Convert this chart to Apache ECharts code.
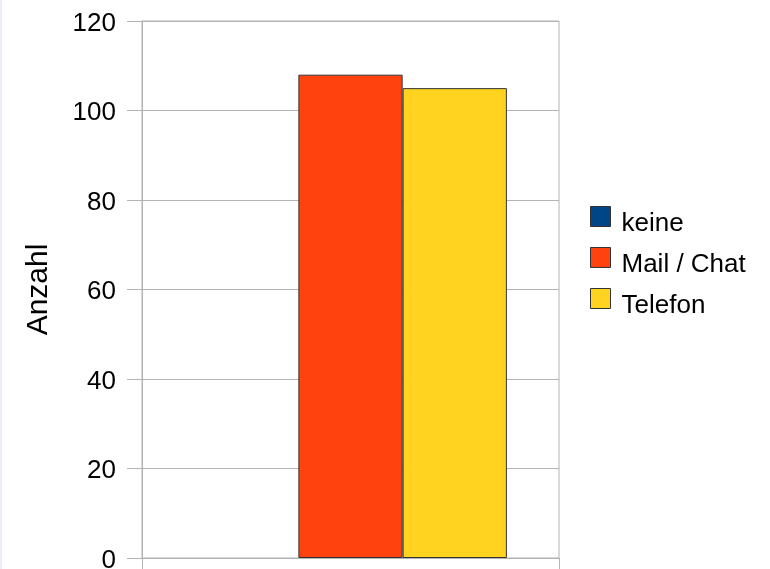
<!DOCTYPE html>
<html>
<head>
<meta charset="utf-8">
<script src="https://cdn.jsdelivr.net/npm/echarts@6/dist/echarts.min.js"></script>
<style>
  html, body { margin: 0; padding: 0; background: #fff; }
  #chart { width: 770px; height: 569px; box-sizing: border-box; border-left: 2px solid #eceffb; }
</style>
</head>
<body>
<div id="chart"></div>
<script>
// Single category, three series (contact channel counts)
const categories = [''];
const seriesNames = ['keine', 'Mail / Chat', 'Telefon'];
const keineValues = [0];
const mailChatValues = [108];
const telefonValues = [105];
const seriesColors = ['#004586', '#ff420e', '#ffd320'];
const yTicks = { min: 0, max: 120, interval: 20 };

const font = 'Liberation Sans, Arial, sans-serif';
const gridColor = '#b3b3b3';

const chart = echarts.init(document.getElementById('chart'), null, { renderer: 'canvas' });

const valueSets = [keineValues, mailChatValues, telefonValues];

chart.setOption({
  animation: false,
  textStyle: { fontFamily: font },
  grid: {
    left: 140, right: 211, top: 21, bottom: 11,
    outerBoundsMode: 'none',
    containLabel: false,
    show: true, borderColor: gridColor, borderWidth: 1, backgroundColor: '#fff'
  },
  legend: {
    orient: 'vertical',
    left: 583, top: 191,
    itemWidth: 20, itemHeight: 20, itemGap: 0,
    icon: 'rect',
    itemStyle: { borderColor: '#333', borderWidth: 1 },
    formatter: '{n|{name}}',
    textStyle: {
      fontFamily: font, fontSize: 26, color: '#000',
      rich: {
        n: { fontFamily: font, fontSize: 26, color: '#000', lineHeight: 20, padding: [15, 0, 0, 6] }
      }
    },
    data: seriesNames
  },
  xAxis: {
    type: 'category',
    data: categories,
    axisLine: { show: true, lineStyle: { color: gridColor } },
    axisTick: { show: true, length: 14, lineStyle: { color: gridColor } },
    axisLabel: { show: false },
    splitLine: { show: false }
  },
  yAxis: {
    type: 'value',
    min: yTicks.min, max: yTicks.max, interval: yTicks.interval,
    name: 'Anzahl',
    nameLocation: 'middle',
    nameRotate: 90,
    nameGap: 88,
    nameTextStyle: { fontFamily: font, fontSize: 30, color: '#000' },
    axisLine: { show: true, lineStyle: { color: gridColor } },
    axisTick: { show: true, length: 15, lineStyle: { color: gridColor } },
    axisLabel: {
      margin: 26, fontFamily: font, fontSize: 26, color: '#000',
      verticalAlign: 'top', lineHeight: 5
    },
    splitLine: { show: true, lineStyle: { color: gridColor } }
  },
  series: seriesNames.map((name, i) => ({
    name,
    type: 'bar',
    data: valueSets[i],
    barGap: 0,
    barCategoryGap: '25%',
    itemStyle: {
      color: seriesColors[i],
      borderColor: '#333',
      borderWidth: valueSets[i].every(v => v === 0) ? 0 : 1
    }
  }))
});
</script>
</body>
</html>
